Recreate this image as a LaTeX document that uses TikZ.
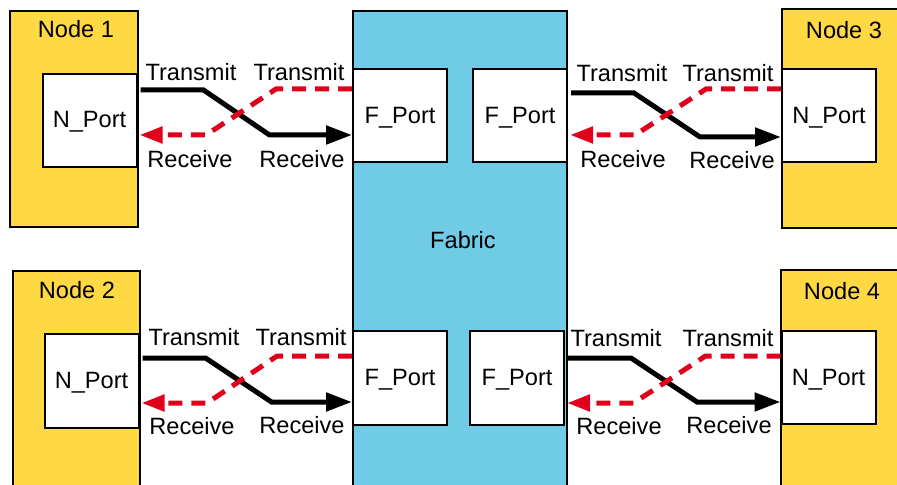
\documentclass[tikz,border=0pt]{standalone}
\usepackage{fontspec}
\setmainfont{Liberation Sans}
\usetikzlibrary{arrows.meta}
\definecolor{nodeyellow}{HTML}{FFD944}
\definecolor{fabricblue}{HTML}{6FCBE6}
\definecolor{rxred}{HTML}{E0001B}

\begin{document}
\begin{tikzpicture}[x = 0.5pt, y = -0.5pt,
        every node/.style = {font = \fontsize{11.8}{13}\selectfont},
        nodebox/.style = {draw, line width = 1pt, fill = nodeyellow},
        portbox/.style = {draw, line width = 1pt, fill = white, inner sep = 0pt,
                minimum width = 47pt, minimum height = 46.5pt,
                text height = 7.5pt, text depth = 0pt},
        tx/.style = {line width = 2.5pt, shorten < = 1.5pt,
                -{Triangle[length = 13pt, width = 9pt]}},
        rx/.style = {line width = 2.5pt, rxred, dash pattern = on 7pt off 4.5pt,
                shorten > = 1pt, -{Triangle[length = 11.5pt, width = 8pt]}},
        lbl/.style = {anchor = base, inner sep = 0pt}]
        \useasboundingbox (0,0) rectangle (897,485);
        \clip (0,0) rectangle (897,485);

        \draw[nodebox] (10,11) rectangle (138,227); %Node 1
        \draw[nodebox] (13,271) rectangle (140,500); %Node 2
        \draw[nodebox] (782,9) rectangle (910,228); %Node 3
        \draw[nodebox] (781,270) rectangle (910,500); %Node 4
        \draw[line width = 1pt, fill = fabricblue] (353,11) rectangle (567,500); %Fabric

        \node[lbl] (n1) at (76,38) {Node 1};
        \node[lbl] (n2) at (77,299) {Node 2};
        \node[lbl] (n3) at (844,39) {Node 3};
        \node[lbl] (n4) at (842,300) {Node 4};
        \node (fab) at (463,240) {Fabric};

        \node[portbox] (np1) at (89.5,120.5) {N\_Port};
        \node[portbox] (np2) at (91.5,381) {N\_Port};
        \node[portbox] (np3) at (829,116) {N\_Port};
        \node[portbox] (np4) at (828.5,377.5) {N\_Port};
        \node[portbox] (fp1) at (400,116) {F\_Port};
        \node[portbox] (fp2) at (400,378) {F\_Port};
        \node[portbox] (fp3) at (520,116) {F\_Port};
        \node[portbox] (fp4) at (517,378) {F\_Port};

        \draw[tx] (np1.east |- 0,90) -- ++(66,0) -- ++(66,45) -- (fp1.west |- 0,135); %1 out
        \draw[rx] (fp1.west |- 0,89) -- ++(-76,0) -- ++(-70,46) -- (np1.east |- 0,135); %1 in
        \draw[tx] (fp3.east |- 0,93) -- ++(66,0) -- ++(66,44) -- (np3.west |- 0,137); %3 in
        \draw[rx] (np3.west |- 0,89) -- ++(-75,0) -- ++(-71,46) -- (fp3.east |- 0,135); %3 out
        \draw[tx] (np2.east |- 0,358) -- ++(66,0) -- ++(66,44) -- (fp2.west |- 0,402); %2 out
        \draw[rx] (fp2.west |- 0,356) -- ++(-75,0) -- ++(-70,47) -- (np2.east |- 0,403); %2 in
        \draw[tx] (fp4.east |- 0,358) -- ++(66,0) -- ++(66,44) -- (np4.west |- 0,402); %4 in
        \draw[rx] (np4.west |- 0,356) -- ++(-75,0) -- ++(-72,47) -- (fp4.east |- 0,403); %4 out

        \node[lbl] (t1a) at (191,81) {Transmit};
        \node[lbl] (t1b) at (299,81) {Transmit};
        \node[lbl] (r1a) at (190,168) {Receive};
        \node[lbl] (r1b) at (302,168) {Receive};
        \node[lbl] (t3a) at (622,82) {Transmit};
        \node[lbl] (t3b) at (728,82) {Transmit};
        \node[lbl] (r3a) at (623,168) {Receive};
        \node[lbl] (r3b) at (732,169) {Receive};
        \node[lbl] (t2a) at (194,345) {Transmit};
        \node[lbl] (t2b) at (301,345) {Transmit};
        \node[lbl] (r2a) at (192,434) {Receive};
        \node[lbl] (r2b) at (302,433) {Receive};
        \node[lbl] (t4a) at (616,346) {Transmit};
        \node[lbl] (t4b) at (728,346) {Transmit};
        \node[lbl] (r4a) at (619,434) {Receive};
        \node[lbl] (r4b) at (729,433) {Receive};
\end{tikzpicture}
\end{document}
